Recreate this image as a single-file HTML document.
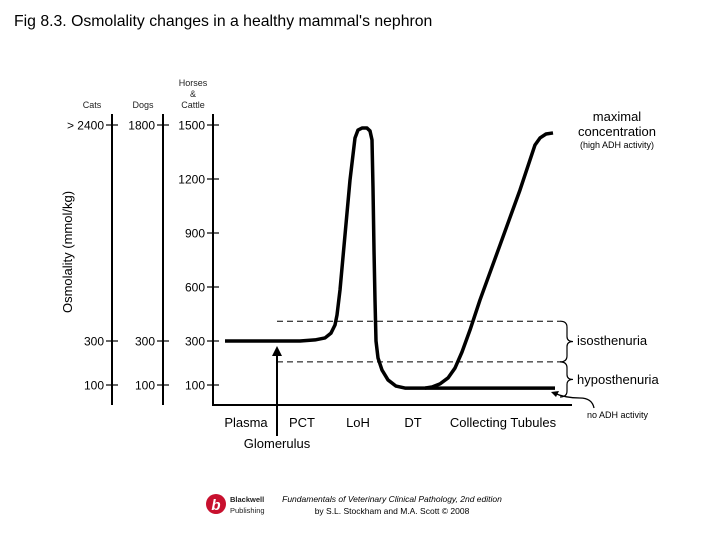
<!DOCTYPE html>
<html><head><meta charset="utf-8">
<style>
html,body{margin:0;padding:0;background:#fff;}
body{width:720px;height:540px;overflow:hidden;font-family:"Liberation Sans",Arial,sans-serif;}
</style></head>
<body>
<svg id="chart" width="720" height="540" xmlns="http://www.w3.org/2000/svg" font-family="Liberation Sans, Arial, sans-serif">
<text x="14" y="26" font-size="15.8" fill="#000">Fig 8.3. Osmolality changes in a healthy mammal's nephron</text>
<g id="axes"></g>
<g id="marks"></g>
</svg>
<script>
// ---- data ----
const horseTicks = [1500, 1200, 900, 600, 300, 100];
const dogTickLabels = ["1800", "300", "100"];
const dogTickValues = [1500, 300, 100];
const catTickLabels = ["> 2400", "300", "100"];
const catTickValues = [1500, 300, 100];
const segments = ["Plasma", "PCT", "LoH", "DT", "Collecting Tubules"];
const segmentPos = [33, 89, 145, 200, 290];
// nephron curve (position along tubule, osmolality in horse scale)
const curvePos = [12, 87, 102, 112, 118, 122, 124, 127, 132, 137, 142, 145, 149, 154, 157, 159, 160, 161, 162, 163, 165, 169, 175, 183, 192, 212, 219, 227, 235, 242, 249, 257, 267, 287, 307, 317, 322, 327, 333, 340];
const curveVal = [300, 300, 306, 317, 344, 389, 444, 583, 889, 1194, 1428, 1472, 1483, 1483, 1467, 1417, 1150, 806, 528, 300, 223, 168, 123, 95, 86, 86, 91, 105, 132, 177, 250, 361, 528, 833, 1139, 1306, 1389, 1428, 1450, 1456];
const noAdhPos = [212, 342];
const noAdhVal = [86, 86];
const isoBand = [410, 205];

// ---- scales ----
const xS = p => 213 + p;
const yS = v => v >= 300 ? 341 - (v - 300) * 0.18 : 341 - (v - 300) * 0.22;

const NS = "http://www.w3.org/2000/svg";
const axes = document.getElementById('axes');
const marks = document.getElementById('marks');
function mk(tag, attrs, parent, text) {
  const e = document.createElementNS(NS, tag);
  for (const k in attrs) e.setAttribute(k, attrs[k]);
  if (text !== undefined) e.textContent = text;
  parent.appendChild(e);
  return e;
}

let t = mk('text', {x: 0, y: 0, 'font-size': 13, 'text-anchor': 'middle', transform: 'translate(72,252) rotate(-90)'}, axes, 'Osmolality (mmol/kg)');



function speciesAxis(x, name, header, values, labels, yTop, yBot) {
  let l = mk('line', {x1: x, x2: x, y1: yTop, y2: yBot, stroke: '#000', 'stroke-width': 2}, axes);
  
  
  header.forEach((h, i) => {
    let ht = mk('text', {x: x - 20, y: 108 - (header.length - 1 - i) * 11, 'font-size': 9, 'text-anchor': 'middle', fill: '#222'}, axes, h);
    
    
  });
  values.forEach((v, i) => {
    let tk = mk('line', {x1: x - 6, x2: x + 6, y1: yS(v), y2: yS(v), stroke: '#000', 'stroke-width': 1.2}, axes);
    
    
    let tl = mk('text', {x: x - 8, y: yS(v) + 4.5, 'font-size': 12, 'text-anchor': 'end'}, axes, labels[i]);
    
    
  });
}
speciesAxis(112, 'cats', ['Cats'], catTickValues, catTickLabels, 114, 405);
speciesAxis(163, 'dogs', ['Dogs'], dogTickValues, dogTickLabels, 114, 405);
speciesAxis(213, 'horses', ['Horses', '&', 'Cattle'], horseTicks, horseTicks.map(String), 114, 405);
let xa = mk('line', {x1: 212, x2: 572, y1: 405, y2: 405, stroke: '#000', 'stroke-width': 2}, axes);


segments.forEach((s, i) => {
  let st = mk('text', {x: xS(segmentPos[i]), y: 427, 'font-size': 13, 'text-anchor': 'middle'}, axes, s);
  
  
});
let gl = mk('text', {x: 277, y: 448, 'font-size': 13, 'text-anchor': 'middle'}, axes, 'Glomerulus');


let ga = mk('line', {x1: 277, x2: 277, y1: 436, y2: 352, stroke: '#000', 'stroke-width': 2}, axes);


let gh = mk('path', {d: 'M272,356 L277,346 L282,356 Z', fill: '#000'}, axes);



isoBand.forEach(v => {
  let d = mk('line', {x1: 277, x2: 560, y1: yS(v), y2: yS(v), stroke: '#000', 'stroke-width': 1, 'stroke-dasharray': '6,4'}, marks);
  
  
});

const pts = curvePos.map((p, i) => xS(p) + ',' + yS(curveVal[i])).join(' ');
let c = mk('polyline', {points: pts, fill: 'none', stroke: '#000', 'stroke-width': 3.5, 'stroke-linejoin': 'round', 'stroke-linecap': 'butt'}, marks);


let n = mk('line', {x1: xS(noAdhPos[0]), x2: xS(noAdhPos[1]), y1: yS(noAdhVal[0]), y2: yS(noAdhVal[1]), stroke: '#000', 'stroke-width': 3.5}, marks);



function brace(y1, y2, name) {
  const m = (y1 + y2) / 2;
  let b = mk('path', {d: `M560,${y1} Q567,${y1} 567,${y1 + 6} L567,${m - 5} Q567,${m} 573,${m} Q567,${m} 567,${m + 5} L567,${y2 - 6} Q567,${y2} 560,${y2}`, fill: 'none', stroke: '#000', 'stroke-width': 1.2}, marks);
  
  
}
brace(yS(isoBand[0]), yS(isoBand[1]), 'isosthenuria-brace');
brace(yS(isoBand[1]), 397, 'hyposthenuria-brace');
[['isosthenuria', 345], ['hyposthenuria', 384]].forEach(([s, y]) => {
  let tt = mk('text', {x: 577, y: y, 'font-size': 13}, marks, s);
  
  
});
let na = mk('path', {d: 'M594,408 Q592,398 580,398 Q565,398 554,393', fill: 'none', stroke: '#000', 'stroke-width': 1.3}, marks);


let nh = mk('path', {d: 'M551,392 L559,391 L556,397 Z', fill: '#000'}, marks);


let nt = mk('text', {x: 587, y: 418, 'font-size': 9}, marks, 'no ADH activity');


[['maximal', 121, 13], ['concentration', 136, 13], ['(high ADH activity)', 148, 9]].forEach(([s, y, f]) => {
  let mt = mk('text', {x: 617, y: y, 'font-size': f, 'text-anchor': 'middle'}, marks, s);
  
  
});

let logo = mk('circle', {cx: 216, cy: 504, r: 10, fill: '#c8102e'}, marks);


mk('text', {x: 216, y: 510, 'font-size': 15, 'font-weight': 'bold', 'text-anchor': 'middle', fill: '#fff', 'font-style': 'italic'}, marks, 'b');
[['Blackwell', 502], ['Publishing', 513]].forEach(([s, y]) => {
  let p = mk('text', {x: 230, y: y, 'font-size': 7.5, 'font-weight': s === 'Blackwell' ? 'bold' : 'normal', fill: '#222'}, marks, s);
  
  
});
let f1 = mk('text', {x: 392, y: 502, 'font-size': 8.5, 'text-anchor': 'middle', 'font-style': 'italic'}, marks, 'Fundamentals of Veterinary Clinical Pathology, 2nd edition');


let f2 = mk('text', {x: 392, y: 514, 'font-size': 8.5, 'text-anchor': 'middle'}, marks, 'by S.L. Stockham and M.A. Scott © 2008');


</script>
</body></html>
